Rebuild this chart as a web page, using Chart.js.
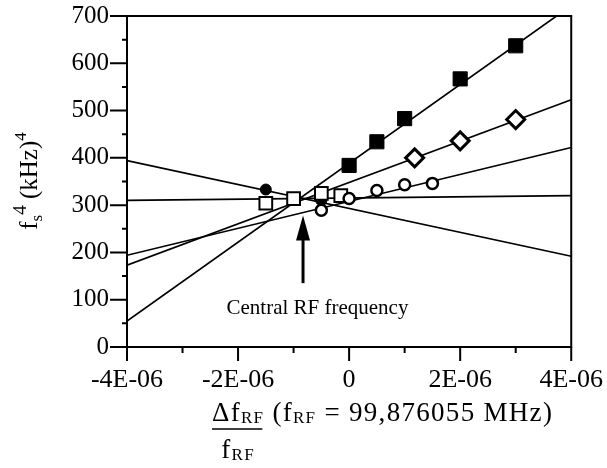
<!DOCTYPE html>
<html lang="en">
<head>
  <meta charset="UTF-8" />
  <title>fs^4 vs RF frequency offset</title>
  <script src="https://cdn.jsdelivr.net/npm/chart.js"></script>
  <style>
    body { margin: 0; background: #fff; }
    #wrap { width: 607px; height: 468px; }
  </style>
</head>
<body>
  <div id="wrap"><canvas id="chart" width="607" height="468"></canvas></div>

  <script>
    // Measured points: relative RF offset (x) vs fs^4 in (kHz)^4 (y)
    const filledSquareX = [0, 0.5e-6, 1e-6, 2e-6, 3e-6];
    const filledSquareY = [384, 434, 483, 567, 637];
    const diamondX = [1.18e-6, 2e-6, 3e-6];
    const diamondY = [400, 436, 481];
    const openCircleX = [-0.5e-6, 0, 0.5e-6, 1e-6, 1.5e-6];
    const openCircleY = [289, 314, 331, 343, 346];
    const openSquareX = [-1.5e-6, -1e-6, -0.5e-6, -0.15e-6];
    const openSquareY = [304, 314, 325, 320];
    const filledCircleX = [-1.5e-6, -0.5e-6];
    const filledCircleY = [333, 310];

    // Fitted lines, values at both ends of the x axis
    const fitX = [-4e-6, 4e-6];
    const fitFilledSquare = [55, 722];
    const fitDiamond = [173, 523];
    const fitOpenCircle = [194, 422];
    const fitOpenSquare = [310, 320];
    const fitFilledCircle = [394, 192];

    // Axes
    const xTicks = [-4e-6, -2e-6, 0, 2e-6, 4e-6];
    const xMinorTicks = [-3e-6, -1e-6, 1e-6, 3e-6];
    const yTicks = [0, 100, 200, 300, 400, 500, 600, 700];
    const yMinorTicks = [50, 150, 250, 350, 450, 550, 650];

    // Annotation
    const arrowX = -0.83e-6;
    const arrowFromY = 135;
    const arrowToY = 278;
    const noteText = 'Central RF frequency';
    const noteX = -0.57e-6;
    const noteY = 82;

    const serif = '"Liberation Serif", "Times New Roman", serif';

    function pts(xs, ys) {
      return xs.map((x, i) => ({ x: x, y: ys[i] }));
    }

    function fitLine(ys) {
      return {
        data: pts(fitX, ys),
        showLine: true,
        borderColor: '#000',
        borderWidth: 1.7,
        pointRadius: 0,
        order: 10
      };
    }

    function markers(xs, ys, style, radius, fill, border) {
      return {
        data: pts(xs, ys),
        showLine: false,
        pointStyle: style,
        pointRadius: radius,
        pointBackgroundColor: fill,
        pointBorderColor: '#000',
        pointBorderWidth: border,
        order: 1
      };
    }

    // draws a run of text pieces with their own size and vertical shift
    function richText(ctx, parts, x, y, align, spacing) {
      ctx.letterSpacing = (spacing || 0) + 'px';
      let total = 0;
      parts.forEach(p => {
        ctx.font = p.size + 'px ' + serif;
        p.w = ctx.measureText(p.t).width;
        total += p.w;
      });
      let cx = align === 'center' ? x - total / 2 : x;
      ctx.textAlign = 'left';
      ctx.textBaseline = 'alphabetic';
      parts.forEach(p => {
        ctx.font = p.size + 'px ' + serif;
        ctx.fillText(p.t, cx, y + (p.dy || 0));
        cx += p.w;
      });
      ctx.letterSpacing = '0px';
      return total;
    }

    const decorations = {
      id: 'decorations',
      afterDraw(chart) {
        const ctx = chart.ctx;
        const a = chart.chartArea;
        const xs = chart.scales.x;
        const ys = chart.scales.y;
        ctx.save();
        ctx.strokeStyle = '#000';
        ctx.fillStyle = '#000';

        // frame
        ctx.lineWidth = 2;
        ctx.strokeRect(a.left, a.top, a.right - a.left, a.bottom - a.top);

        // tick marks
        ctx.beginPath();
        yTicks.forEach(v => {
          const p = ys.getPixelForValue(v);
          ctx.moveTo(a.left - 17, p); ctx.lineTo(a.left, p);
        });
        yMinorTicks.forEach(v => {
          const p = ys.getPixelForValue(v);
          ctx.moveTo(a.left - 5, p); ctx.lineTo(a.left + 1, p);
        });
        xTicks.forEach(v => {
          const p = xs.getPixelForValue(v);
          ctx.moveTo(p, a.bottom); ctx.lineTo(p, a.bottom + 14);
        });
        xMinorTicks.forEach(v => {
          const p = xs.getPixelForValue(v);
          ctx.moveTo(p, a.bottom); ctx.lineTo(p, a.bottom + 6);
        });
        ctx.stroke();

        // arrow pointing at the central frequency
        const ax = xs.getPixelForValue(arrowX);
        const ay0 = ys.getPixelForValue(arrowFromY);
        const ay1 = ys.getPixelForValue(arrowToY);
        ctx.lineWidth = 3;
        ctx.beginPath();
        ctx.moveTo(ax, ay0);
        ctx.lineTo(ax, ay1 + 20);
        ctx.stroke();
        ctx.beginPath();
        ctx.moveTo(ax, ay1);
        ctx.lineTo(ax - 7, ay1 + 25);
        ctx.lineTo(ax + 7, ay1 + 25);
        ctx.closePath();
        ctx.fill();

        ctx.font = '21px ' + serif;
        ctx.textAlign = 'center';
        ctx.textBaseline = 'middle';
        ctx.fillText(noteText, xs.getPixelForValue(noteX), ys.getPixelForValue(noteY));

        // y axis title, rotated
        ctx.save();
        ctx.translate(37, 181);
        ctx.rotate(-Math.PI / 2);
        richText(ctx, [
          { t: 'f', size: 25 },
          { t: 's', size: 17, dy: 5 },
          { t: '4', size: 19, dy: -11 },
          { t: ' (kHz)', size: 25 },
          { t: '4', size: 17, dy: -11 }
        ], 0, 0, 'center');
        ctx.restore();

        // x axis title as a fraction
        const left = 212;
        const base = 421;
        const numW = richText(ctx, [
          { t: '\u0394f', size: 27 },
          { t: 'RF', size: 17, dy: 2 }
        ], left, base, 'left', 1.3);
        richText(ctx, [
          { t: ' (f', size: 27 },
          { t: 'RF', size: 17, dy: 2 },
          { t: ' = 99,876055 MHz)', size: 27 }
        ], left + numW, base, 'left', 1.3);
        ctx.lineWidth = 1.5;
        ctx.beginPath();
        ctx.moveTo(left, base + 8);
        ctx.lineTo(left + numW - 2, base + 8);
        ctx.stroke();
        richText(ctx, [
          { t: 'f', size: 27 },
          { t: 'RF', size: 17, dy: 2 }
        ], left + numW / 2, base + 37, 'center', 1.3);

        ctx.restore();
      }
    };

    new Chart(document.getElementById('chart'), {
      type: 'scatter',
      data: {
        datasets: [
          fitLine(fitFilledSquare),
          fitLine(fitDiamond),
          fitLine(fitOpenCircle),
          fitLine(fitOpenSquare),
          fitLine(fitFilledCircle),
          markers(filledSquareX, filledSquareY, 'rect', 10, '#000', 1),
          markers(diamondX, diamondY, 'rectRot', 9, '#fff', 3),
          markers(openCircleX, openCircleY, 'circle', 5.5, '#fff', 2.5),
          markers(openSquareX, openSquareY, 'rect', 9, '#fff', 2),
          markers(filledCircleX, filledCircleY, 'circle', 5.5, '#000', 1)
        ]
      },
      options: {
        responsive: false,
        animation: false,
        layout: { padding: { top: 15, right: 34, left: 0, bottom: 0 } },
        plugins: {
          legend: { display: false },
          tooltip: { enabled: false }
        },
        scales: {
          x: {
            type: 'linear',
            min: -4e-6,
            max: 4e-6,
            afterBuildTicks: s => { s.ticks = xTicks.map(v => ({ value: v })); },
            afterFit: s => { s.height = 121; },
            border: { display: false },
            grid: { drawOnChartArea: false, tickLength: 14, tickColor: 'rgba(0,0,0,0)' },
            ticks: {
              autoSkip: false,
              maxRotation: 0,
              padding: 4,
              color: '#000',
              font: { family: serif, size: 26 },
              callback: v => v === 0 ? '0' : Math.round(v * 1e6) + 'E-06'
            }
          },
          y: {
            min: 0,
            max: 700,
            afterBuildTicks: s => { s.ticks = yTicks.map(v => ({ value: v })); },
            afterFit: s => { s.width = 127; },
            border: { display: false },
            grid: { drawOnChartArea: false, tickLength: 17, tickColor: 'rgba(0,0,0,0)' },
            ticks: {
              padding: 1,
              color: '#000',
              font: { family: serif, size: 25 }
            }
          }
        }
      },
      plugins: [decorations]
    });
  </script>
</body>
</html>
